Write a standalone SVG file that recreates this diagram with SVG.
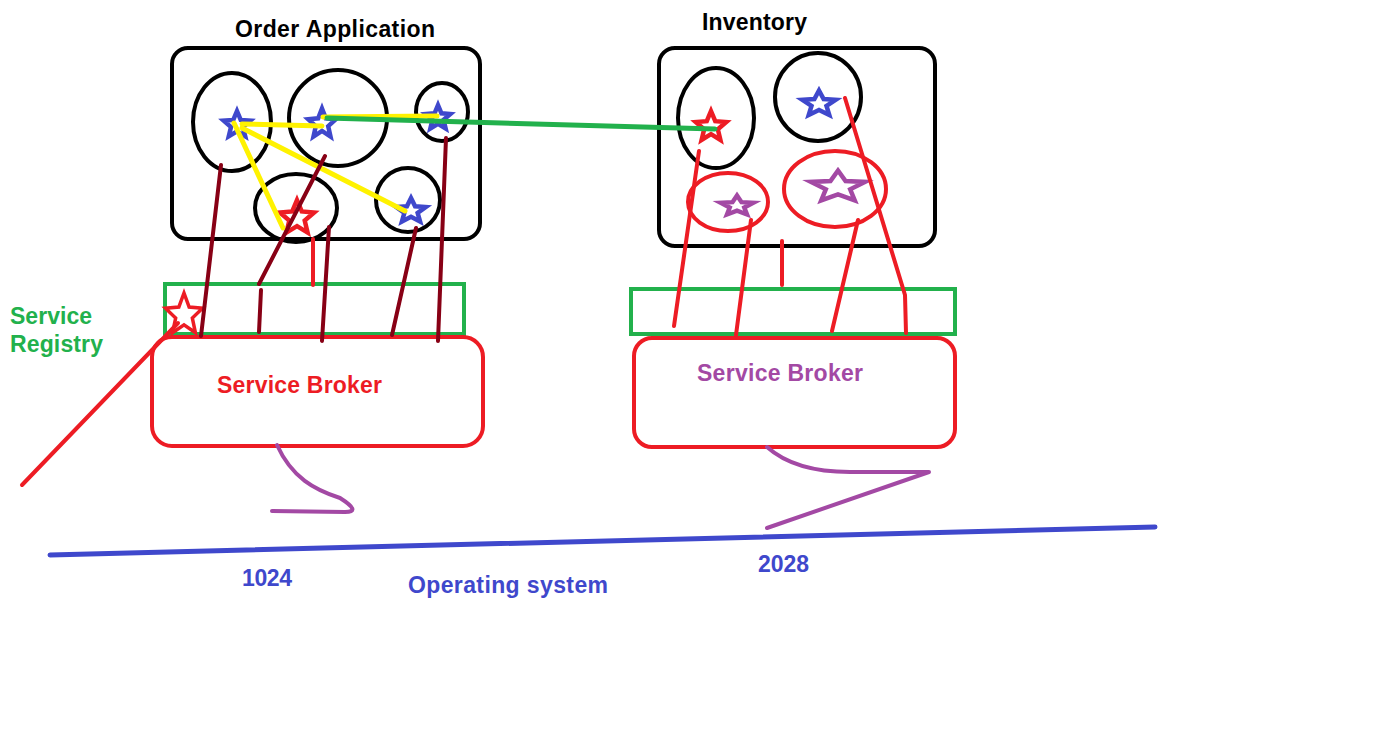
<svg xmlns="http://www.w3.org/2000/svg" xmlns:xlink="http://www.w3.org/1999/xlink" width="1387" height="736" viewBox="0 0 1387 736">
<style>
.bg{fill:#ffffff}
.box{fill:none;stroke:#000;stroke-width:4}
.ell{fill:none;stroke:#000;stroke-width:4}
.rell{fill:none;stroke:#ed1c24;stroke-width:4}
.reg{fill:none;stroke:#22b14c;stroke-width:4}
.brk{fill:none;stroke:#ed1c24;stroke-width:4}
.yl{stroke:#fff200;stroke-width:5;stroke-linecap:round;fill:none}
.gl{stroke:#22b14c;stroke-width:5;stroke-linecap:round;fill:none}
.dr{stroke:#880015;stroke-width:4;stroke-linecap:round;fill:none}
.rl{stroke:#ed1c24;stroke-width:4;stroke-linecap:round;fill:none}
.pl{stroke:#a349a4;stroke-width:4;stroke-linecap:round;stroke-linejoin:round;fill:none}
.bl{stroke:#3f48cc;stroke-width:5;stroke-linecap:round;fill:none}
.st{fill:none;stroke-width:4.5;stroke-linejoin:miter}
.sb{stroke:#3f48cc}
.sr{stroke:#ed1c24}
.sp{stroke:#a349a4}
.t{font-family:"Liberation Sans",Arial,sans-serif;font-weight:bold;font-size:23px}
</style>
<defs>
<polygon id="star" points="0,-10 2.645,-3.641 9.511,-3.09 4.28,1.391 5.878,8.09 0,4.5 -5.878,8.09 -4.28,1.391 -9.511,-3.09 -2.645,-3.641" vector-effect="non-scaling-stroke"/>
</defs>
<rect class="bg" x="0" y="0" width="1387" height="736"/>

<g id="order-application">
<rect class="box" x="172" y="48" width="308" height="191" rx="16"/>
<text class="t" x="235" y="37" font-size="22" textLength="200" fill="#000">Order Application</text>
<ellipse class="ell" cx="232" cy="122" rx="39" ry="49"/>
<ellipse class="ell" cx="338" cy="118" rx="49" ry="48"/>
<ellipse class="ell" cx="442" cy="112" rx="26" ry="29"/>
<ellipse class="ell" cx="296" cy="208" rx="41" ry="34"/>
<ellipse class="ell" cx="408" cy="200" rx="32" ry="32"/>
<use xlink:href="#star" class="st sb" transform="translate(237,125) scale(1.4)"/>
<use xlink:href="#star" class="st sb" transform="translate(322,124) scale(1.45,1.55)"/>
<use xlink:href="#star" class="st sb" transform="translate(438,118) scale(1.3)"/>
<use xlink:href="#star" class="st sr" transform="translate(297,218) scale(1.8)"/>
<use xlink:href="#star" class="st sb" transform="translate(411,211) scale(1.55,1.3)"/>
</g>

<g id="inventory">
<rect class="box" x="659" y="48" width="276" height="198" rx="16"/>
<text class="t" x="702" y="30" font-size="23.5" textLength="105" fill="#000">Inventory</text>
<ellipse class="ell" cx="716" cy="118" rx="38" ry="50"/>
<ellipse class="ell" cx="818" cy="97" rx="43" ry="44"/>
<ellipse class="rell" cx="728" cy="202" rx="40" ry="29"/>
<ellipse class="rell" cx="835" cy="189" rx="51" ry="38"/>
<use xlink:href="#star" class="st sr" transform="translate(711,127) scale(1.6)"/>
<use xlink:href="#star" class="st sb" transform="translate(819,104) scale(1.75,1.35)"/>
<use xlink:href="#star" class="st sp" transform="translate(737,206) scale(1.7,1.05)"/>
<use xlink:href="#star" class="st sp" transform="translate(838,187) scale(2.85,1.65)"/>
</g>

<g id="service-registry-left">
<rect class="reg" x="165" y="284" width="299" height="50"/>
</g>
<g id="service-registry-right">
<rect class="reg" x="631" y="289" width="324" height="45"/>
</g>
<g id="service-registry-label">
<text class="t" x="10" y="324" textLength="82" fill="#22b14c">Service</text>
<text class="t" x="10" y="352" textLength="93" fill="#22b14c">Registry</text>
<use xlink:href="#star" class="st sr" style="stroke-width:3.5" transform="translate(184,315) scale(1.95,2.2)"/>
</g>

<g id="service-broker-left">
<rect class="brk" x="152" y="337" width="331" height="109" rx="20"/>
<text class="t" x="217" y="393" font-size="23.5" textLength="165" fill="#ed1c24">Service Broker</text>
</g>
<g id="service-broker-right">
<rect class="brk" x="634" y="338" width="321" height="109" rx="18"/>
<text class="t" x="697" y="381" font-size="23.5" textLength="166" fill="#a349a4">Service Broker</text>
</g>

<g id="operating-system">
<line class="bl" x1="50" y1="555" x2="1155" y2="527"/>
<text class="t" x="242" y="586" font-size="22.5" textLength="50" fill="#3f48cc">1024</text>
<text class="t" x="408" y="593" font-size="21.5" textLength="200" fill="#3f48cc">Operating system</text>
<text class="t" x="758" y="572" font-size="21" fill="#3f48cc">2028</text>
</g>

<g id="connectors">
<line class="yl" x1="242" y1="124" x2="322" y2="126"/>
<line class="yl" x1="323" y1="117" x2="437" y2="116"/>
<line class="yl" x1="234" y1="123" x2="283" y2="228"/>
<line class="yl" x1="242" y1="128" x2="405" y2="211"/>
<line class="gl" x1="327" y1="118" x2="715" y2="129"/>
<line class="dr" x1="221" y1="165" x2="201" y2="336"/>
<line class="dr" x1="325" y1="156" x2="259" y2="284"/>
<line class="dr" x1="261" y1="290" x2="259" y2="332"/>
<line class="dr" x1="329" y1="227" x2="322" y2="341"/>
<line class="dr" x1="416" y1="228" x2="392" y2="335"/>
<line class="dr" x1="446" y1="138" x2="438" y2="341"/>
<line class="rl" x1="313" y1="239" x2="313" y2="285"/>
<line class="rl" x1="178" y1="323" x2="22" y2="485"/>
<line class="rl" x1="699" y1="151" x2="674" y2="326"/>
<line class="rl" x1="751" y1="220" x2="736" y2="335"/>
<line class="rl" x1="782" y1="241" x2="782" y2="285"/>
<line class="rl" x1="858" y1="220" x2="832" y2="331"/>
<polyline class="rl" points="845,98 905,295 906,333"/>
<path class="pl" d="M277,445 C292,478 315,490 340,498 Q362,512 345,512 L272,511"/>
<path class="pl" d="M767,447 Q795,472 850,472 L929,472 L767,528"/>
</g>
</svg>
